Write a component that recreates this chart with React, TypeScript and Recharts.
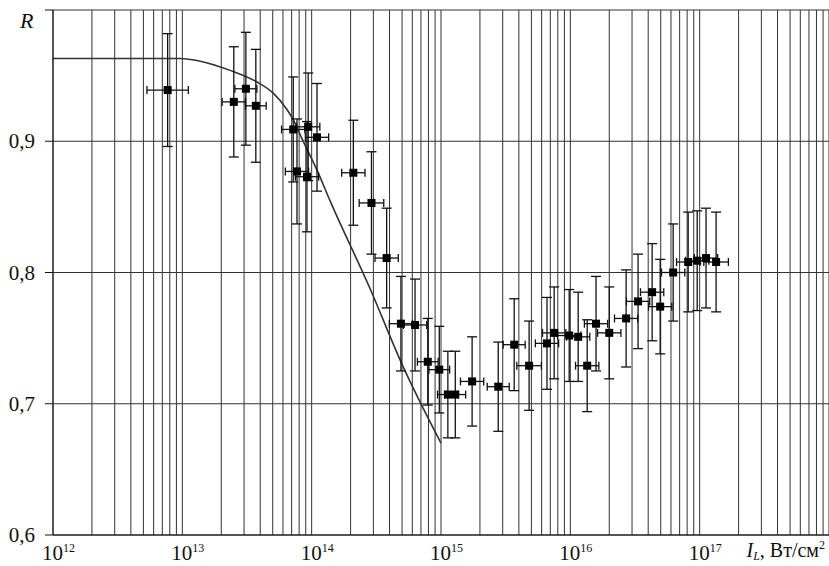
import {
  ComposedChart,
  Line,
  Scatter,
  ErrorBar,
  XAxis,
  YAxis,
  CartesianGrid
} from "recharts";

// measured points: intensity (W/cm2), reflectance, error of R, half-width of I error in decades
const intensity = [
  7.7e12, 2.5e13, 3.1e13, 3.7e13, 7.2e13, 9.4e13, 1.1e14, 7.7e13, 9.2e13,
  2.1e14, 2.9e14, 3.8e14, 4.9e14, 6.3e14, 7.9e14, 9.7e14, 1.13e15, 1.29e15,
  1.74e15, 2.77e15, 3.68e15, 4.8e15, 6.6e15, 7.5e15, 9.8e15, 1.15e16,
  1.35e16, 1.58e16, 2.0e16, 2.7e16, 3.34e16, 4.29e16, 4.95e16, 6.24e16,
  8.15e16, 9.57e16, 1.12e17, 1.34e17
];
const reflect = [
  0.939, 0.930, 0.940, 0.927, 0.909, 0.911, 0.903, 0.877, 0.873,
  0.876, 0.853, 0.811, 0.761, 0.760, 0.732, 0.726, 0.707, 0.707,
  0.717, 0.713, 0.745, 0.729, 0.746, 0.754, 0.752, 0.751,
  0.729, 0.761, 0.754, 0.765, 0.778, 0.785, 0.774, 0.800,
  0.808, 0.809, 0.811, 0.808
];
const reflectErr = [
  0.043, 0.042, 0.043, 0.043, 0.040, 0.041, 0.041, 0.040, 0.042,
  0.040, 0.039, 0.038, 0.036, 0.035, 0.033, 0.033, 0.033, 0.033,
  0.034, 0.034, 0.035, 0.034, 0.035, 0.035, 0.035, 0.034,
  0.035, 0.036, 0.035, 0.037, 0.036, 0.037, 0.036, 0.037,
  0.038, 0.038, 0.038, 0.038
];
const intensityErrDec = [
  0.16, 0.09, 0.085, 0.08, 0.09, 0.09, 0.09, 0.09, 0.09,
  0.09, 0.095, 0.09, 0.09, 0.09, 0.08, 0.08, 0.08, 0.08,
  0.09, 0.085, 0.085, 0.095, 0.09, 0.09, 0.09, 0.09,
  0.09, 0.09, 0.09, 0.09, 0.09, 0.09, 0.09, 0.09,
  0.09, 0.09, 0.09, 0.095
];

// calculated curve
const curveI = [
  1e12, 9.5e12, 1.38e13, 2.34e13, 3.8e13, 5.0e13, 6.46e13, 7.24e13,
  8.5e13, 1.1e14, 1.41e14, 2.82e14, 5.0e14, 1e15
];
const curveR = [
  0.963, 0.963, 0.961, 0.954, 0.945, 0.937, 0.924, 0.916,
  0.901, 0.878, 0.853, 0.788, 0.730, 0.670
];

const decadePowers = [12, 13, 14, 15, 16, 17];
const minorSteps = [1, 2, 3, 4, 5, 6, 7, 8, 9];
const yTicks = [0.6, 0.7, 0.8, 0.9, 1.0];

const xGridTicks = [
  ...decadePowers.flatMap((p) => minorSteps.map((k) => k * 10 ** p)),
  1e18
];

const points = intensity.map((x, i) => {
  const f = 10 ** intensityErrDec[i];
  return {
    x,
    r: reflect[i],
    re: reflectErr[i],
    xe: [x - x / f, x * f - x]
  };
});

const curve = curveI.map((x, i) => ({ x, r: curveR[i] }));

const FONT = "'Liberation Serif', 'Times New Roman', serif";

const XTick = (props: any) => {
  const { x, payload } = props;
  const v = payload.value;
  const p = Math.round(Math.log10(v));
  if (Math.abs(v - 10 ** p) > v * 1e-6 || p > 17) return <g />;
  return (
    <text x={x - 11} y={560} fontFamily={FONT} fontSize={21} fill="#111">
      <tspan>10</tspan>
      <tspan dy={-8} fontSize={12}>{p}</tspan>
    </text>
  );
};

const YTick = (props: any) => {
  const { x, y, payload } = props;
  if (payload.value > 0.95) return <g />;
  return (
    <text
      x={x}
      y={y}
      dy={7}
      textAnchor="end"
      fontFamily={FONT}
      fontSize={21}
      fill="#111"
    >
      {payload.value.toFixed(1).replace(".", ",")}
    </text>
  );
};

const Square = (props: any) => {
  const { cx, cy } = props;
  if (cx == null || cy == null) return <g />;
  return <rect x={cx - 4} y={cy - 4} width={8} height={8} fill="#000" />;
};

export default function App() {
  return (
    <div style={{ position: "absolute", left: 0, top: 0, background: "#fff" }}>
      <ComposedChart
        width={829}
        height={566}
        margin={{ top: 10, right: 0, bottom: 0, left: 8 }}
      >
        <CartesianGrid stroke="#333" strokeWidth={1} />
        <XAxis
          dataKey="x"
          type="number"
          scale="log"
          domain={[1e12, 1e18]}
          allowDataOverflow
          ticks={xGridTicks}
          interval={0}
          tick={<XTick />}
          tickLine={false}
          tickSize={0}
          height={31}
          stroke="#111"
          label={{
            content: () => (
              <text
                x={825}
                y={557}
                textAnchor="end"
                fontFamily={FONT}
                fontSize={20}
                fill="#111"
              >
                <tspan fontStyle="italic">I</tspan>
                <tspan fontStyle="italic" fontSize={12} dy={3}>L</tspan>
                <tspan dy={-3}>, Вт/см</tspan>
                <tspan dy={-8} fontSize={12}>2</tspan>
              </text>
            )
          }}
        />
        <YAxis
          dataKey="r"
          type="number"
          domain={[0.6, 1.0]}
          allowDataOverflow
          ticks={yTicks}
          interval={0}
          tick={<YTick />}
          tickSize={8}
          tickMargin={10}
          width={45}
          stroke="#111"
          label={{
            content: () => (
              <text
                x={20}
                y={28}
                fontFamily={FONT}
                fontSize={22}
                fontStyle="italic"
                fill="#111"
              >
                R
              </text>
            )
          }}
        />
        <Line
          data={curve}
          dataKey="r"
          type="monotone"
          stroke="#333"
          strokeWidth={1.6}
          dot={false}
          activeDot={false}
          isAnimationActive={false}
        />
        <Scatter
          data={points}
          dataKey="r"
          shape={<Square />}
          isAnimationActive={false}
        >
          <ErrorBar
            dataKey="re"
            direction="y"
            width={5}
            stroke="#111"
            strokeWidth={1.3}
          />
          <ErrorBar
            dataKey="xe"
            direction="x"
            width={4}
            stroke="#111"
            strokeWidth={1.3}
          />
        </Scatter>
      </ComposedChart>
    </div>
  );
}
